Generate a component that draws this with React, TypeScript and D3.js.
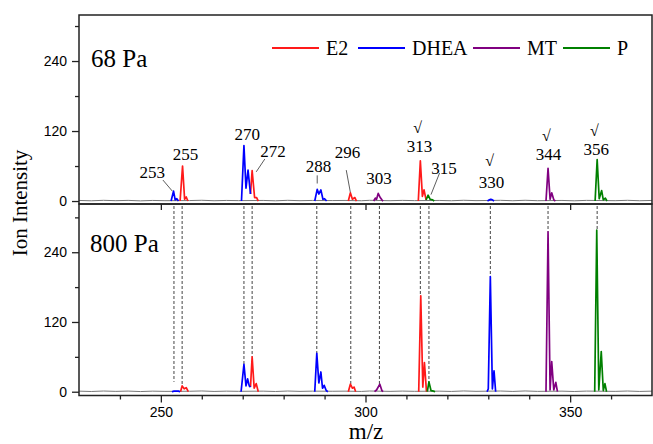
import React, { Component } from "react";
import * as d3 from "d3";

type Pt = [number, number];

const compounds = ["E2", "DHEA", "MT", "P"];
const colors = ["#ff1a1a", "#0000ff", "#800080", "#008000"];

// ---- 68 Pa spectrum (top panel), [m/z, intensity] ----
const e2Low: Pt[] = [
	[254.7, 0], [255.3, 60], [255.8, 3], [256.2, 7], [256.6, 0],
	[271.9, 12], [272.3, 52], [272.9, 6], [273.4, 6], [273.8, 0],
	[295.8, 0], [296.3, 14], [296.8, 3], [297.4, 6], [297.8, 0],
	[312.9, 0], [313.4, 69], [313.9, 8], [314.3, 19], [314.8, 2]
];
const dheaLow: Pt[] = [
	[252.5, 0], [253.1, 17], [253.5, 2], [253.9, 4], [254.3, 0],
	[269.7, 0], [270.3, 95], [270.8, 22], [271.3, 53], [271.9, 12],
	[287.6, 0], [288.2, 20], [288.6, 12], [289.1, 19], [289.6, 3], [290.0, 4], [290.5, 0],
	[329.8, 0], [330.3, 2], [330.6, 3], [331.0, 2], [331.4, 0]
];
const mtLow: Pt[] = [
	[302.0, 0], [302.4, 5], [302.7, 3], [303.1, 13], [303.6, 6], [304.0, 2], [304.3, 0],
	[344.1, 0], [344.6, 56], [345.1, 3], [345.5, 14], [346.0, 2], [346.4, 0]
];
const pLow: Pt[] = [
	[314.8, 2], [315.3, 10], [315.8, 3], [316.4, 2], [316.8, 0],
	[356.1, 0], [356.6, 71], [357.1, 4], [357.7, 18], [358.1, 2], [358.6, 5], [359.0, 0]
];

// ---- 800 Pa spectrum (bottom panel) ----
const e2High: Pt[] = [
	[254.8, 0], [255.2, 10], [255.7, 5], [256.2, 7], [256.7, 0],
	[271.9, 8], [272.3, 60], [272.8, 6], [273.3, 14], [273.8, 0],
	[295.8, 0], [296.3, 13], [296.8, 6], [297.2, 8], [297.6, 0],
	[313.0, 0], [313.5, 165], [314.0, 8], [314.4, 50], [314.9, 0]
];
const dheaHigh: Pt[] = [
	[252.7, 0], [253.2, 1], [254.3, 1], [254.7, 0],
	[269.6, 0], [270.3, 47], [270.8, 10], [271.2, 22], [271.6, 10], [271.9, 8],
	[287.6, 0], [288.1, 66], [288.6, 15], [289.1, 34], [289.5, 6], [289.9, 11], [290.4, 2], [290.8, 0],
	[329.7, 0], [330.0, 5], [330.5, 198], [331.0, 5], [331.4, 36], [331.8, 0]
];
const mtHigh: Pt[] = [
	[302.2, 0], [302.7, 3], [303.5, 13], [304.0, 2], [304.3, 0],
	[344.1, 0], [344.6, 275], [345.1, 3], [345.5, 52], [346.0, 3], [346.5, 16], [346.9, 0]
];
const pHigh: Pt[] = [
	[315.1, 0], [315.5, 17], [316.0, 2], [316.6, 1], [317.0, 0],
	[356.0, 0], [356.5, 278], [357.0, 3], [357.6, 69], [358.1, 2], [358.5, 14], [358.9, 0]
];

// grey background trace (noise floor)
const noise: Pt[] = [
	[230, 1], [233, 0.4], [236, 1.2], [239, 0.6], [242, 1.1], [245, 0.3], [248, 1], [251, 0.6],
	[257, 0.8], [260, 1.3], [263, 0.5], [266, 1], [269, 0.7], [275, 1], [278, 0.4], [281, 1.2],
	[284, 0.6], [287, 1], [292, 0.8], [295, 1], [299, 0.5], [301, 1.2], [306, 0.6], [309, 1.1],
	[312, 0.7], [318, 1], [321, 0.5], [324, 1.3], [327, 0.7], [333, 1.2], [336, 0.5], [339, 1.3],
	[342, 0.6], [348, 1], [351, 0.4], [354, 1.1], [361, 0.6], [364, 1.2], [367, 0.5], [370, 1]
];

// dashed guide lines: m/z and where they stop in the 800 Pa panel
const guideMz = [253.2, 255.2, 270.3, 272.3, 288.1, 296.4, 303.4, 313.4, 315.5, 330.5, 344.6, 356.6];
const guideEnd = [17, 10, 47, 60, 66, 13, 13, 165, 17, 198, 275, 278];

// peak annotations in the 68 Pa panel
const peakLabels = ["253", "255", "270", "272", "288", "296", "303", "313", "315", "330", "344", "356"];
const checked = ["313", "330", "344", "356"];

const xTicks = [250, 300, 350];
const xMinor = [240, 260, 270, 280, 290, 310, 320, 330, 340, 360];
const yTicks = [0, 120, 240];
const yMinor = [60, 180, 300];

// label placement in data units [m/z, intensity], plus optional leader line
const labelPos: Pt[] = [
	[247.9, 39], [256.0, 70], [271.1, 105], [277.4, 75], [288.5, 50], [295.6, 74],
	[303.3, 30], [313.2, 84], [319.2, 46], [330.8, 22], [344.7, 70], [356.4, 79]
];
const leaders: { [k: string]: [Pt, Pt] } = {
	"253": [[250.5, 36], [252.8, 17]],
	"272": [[275.4, 72], [273.3, 50]],
	"288": [[288.2, 44], [288.2, 30]],
	"296": [[295.3, 53], [296.3, 15]],
	"315": [[318.1, 48], [316.0, 11]]
};

const SERIF = "'Liberation Serif', 'Times New Roman', serif";
const SANS = "'Liberation Sans', Arial, sans-serif";

class App extends Component {
	ref = React.createRef<HTMLDivElement>();

	componentDidMount() {
		const node = this.ref.current;
		if (!node) return;
		d3.select(node).selectAll("*").remove();

		const svg = d3
			.select(node)
			.append("svg")
			.attr("width", 653)
			.attr("height", 444)
			.style("position", "absolute")
			.style("left", "0px")
			.style("top", "0px")
			.style("background", "#fff");

		const left = 79, right = 652, top = 15, mid = 204, bottom = 395.5;

		const x = d3.scaleLinear().domain([230, 370]).range([left, right]);
		const yTop = d3.scaleLinear().domain([-5.1, 318.9]).range([mid, top]);
		const yBot = d3.scaleLinear().domain([-6.5, 323]).range([bottom, mid]);

		const clip = svg.append("defs");
		clip.append("clipPath").attr("id", "clipTop").append("rect")
			.attr("x", left).attr("y", top).attr("width", right - left).attr("height", mid - top);
		clip.append("clipPath").attr("id", "clipBot").append("rect")
			.attr("x", left).attr("y", mid).attr("width", right - left).attr("height", bottom - mid);

		// dashed guides run from the top panel floor to the 800 Pa peaks
		svg.append("g")
			.selectAll("line")
			.data(guideMz)
			.enter()
			.append("line")
			.attr("x1", (d) => x(d))
			.attr("x2", (d) => x(d))
			.attr("y1", mid + 2)
			.attr("y2", (d, i) => yBot(guideEnd[i]))
			.attr("stroke", "#444")
			.attr("stroke-width", 1)
			.attr("stroke-dasharray", "3,2");

		const panels = [
			{ y: yTop, clip: "clipTop", series: [e2Low, dheaLow, mtLow, pLow] },
			{ y: yBot, clip: "clipBot", series: [e2High, dheaHigh, mtHigh, pHigh] }
		];

		panels.forEach((p) => {
			const line = d3.line<Pt>().x((d) => x(d[0])).y((d) => p.y(d[1]));
			const g = svg.append("g").attr("clip-path", `url(#${p.clip})`);
			g.append("path")
				.attr("d", line(noise) || "")
				.attr("fill", "none")
				.attr("stroke", "#777")
				.attr("stroke-width", 1);
			p.series.forEach((s, i) => {
				// split each compound into its separate clusters so the gaps stay on the grey trace
				const parts: Pt[][] = [];
				s.forEach((pt, k) => {
					if (k === 0 || pt[0] - s[k - 1][0] > 3) parts.push([]);
					parts[parts.length - 1].push(pt);
				});
				parts.forEach((part) => {
					g.append("path")
						.attr("d", line(part) || "")
						.attr("fill", "none")
						.attr("stroke", colors[i])
						.attr("stroke-width", 1.7)
						.attr("stroke-linejoin", "round");
				});
			});

			// y axis
			const yAxis = svg.append("g")
				.attr("transform", `translate(${left},0)`)
				.call(d3.axisLeft(p.y).tickValues(yTicks).tickSize(7).tickPadding(5));
			yAxis.select(".domain").remove();
			yAxis.selectAll("text").attr("font-family", SANS).attr("font-size", 14).attr("fill", "#000");
			yAxis.selectAll("line").attr("stroke", "#222").attr("stroke-width", 1.3);
			const yAxisMinor = svg.append("g")
				.attr("transform", `translate(${left},0)`)
				.call(d3.axisLeft(p.y).tickValues(yMinor).tickSize(4).tickFormat(() => ""));
			yAxisMinor.select(".domain").remove();
			yAxisMinor.selectAll("line").attr("stroke", "#222").attr("stroke-width", 1.3);
		});

		// ticks under the top panel
		const midAxis = svg.append("g")
			.attr("transform", `translate(0,${mid})`)
			.call(d3.axisBottom(x).tickValues(xTicks).tickSize(6).tickFormat(() => ""));
		midAxis.select(".domain").remove();
		midAxis.selectAll("line").attr("stroke", "#222").attr("stroke-width", 1.3);

		// bottom x axis
		const xAxis = svg.append("g")
			.attr("transform", `translate(0,${bottom})`)
			.call(d3.axisBottom(x).tickValues(xTicks).tickSize(7).tickPadding(5));
		xAxis.select(".domain").remove();
		xAxis.selectAll("text").attr("font-family", SANS).attr("font-size", 14).attr("fill", "#000");
		xAxis.selectAll("line").attr("stroke", "#222").attr("stroke-width", 1.3);
		const xAxisMinor = svg.append("g")
			.attr("transform", `translate(0,${bottom})`)
			.call(d3.axisBottom(x).tickValues(xMinor).tickSize(4).tickFormat(() => ""));
		xAxisMinor.select(".domain").remove();
		xAxisMinor.selectAll("line").attr("stroke", "#222").attr("stroke-width", 1.3);

		// frames
		svg.append("rect")
			.attr("x", left).attr("y", top).attr("width", right - left).attr("height", mid - top)
			.attr("fill", "none").attr("stroke", "#222").attr("stroke-width", 1.5);
		svg.append("rect")
			.attr("x", left).attr("y", mid).attr("width", right - left).attr("height", bottom - mid)
			.attr("fill", "none").attr("stroke", "#222").attr("stroke-width", 1.5);

		// peak labels
		const lab = svg.append("g").attr("font-family", SERIF).attr("font-size", 17).attr("text-anchor", "middle");
		peakLabels.forEach((t, i) => {
			const [mz, h] = labelPos[i];
			lab.append("text").attr("x", x(mz)).attr("y", yTop(h)).text(t);
			if (checked.indexOf(t) >= 0) {
				lab.append("text")
					.attr("x", x(mz) - 2)
					.attr("y", yTop(h) - (t === "330" ? 22 : 19))
					.attr("font-size", 16)
					.text("\u221A");
			}
			const ld = leaders[t];
			if (ld) {
				lab.append("line")
					.attr("x1", x(ld[0][0])).attr("y1", yTop(ld[0][1]))
					.attr("x2", x(ld[1][0])).attr("y2", yTop(ld[1][1]))
					.attr("stroke", "#333").attr("stroke-width", 0.8);
			}
		});

		// panel titles
		svg.append("text").attr("x", 91).attr("y", 67)
			.attr("font-family", SERIF).attr("font-size", 25).text("68 Pa");
		svg.append("text").attr("x", 90).attr("y", 252)
			.attr("font-family", SERIF).attr("font-size", 25).text("800 Pa");

		// legend
		const legendX = [272, 358, 473, 563];
		const leg = svg.append("g").attr("font-family", SERIF).attr("font-size", 20);
		compounds.forEach((c, i) => {
			leg.append("line")
				.attr("x1", legendX[i]).attr("x2", legendX[i] + 47)
				.attr("y1", 48).attr("y2", 48)
				.attr("stroke", colors[i]).attr("stroke-width", 1.8);
			leg.append("text").attr("x", legendX[i] + 54).attr("y", 55).text(c);
		});

		// axis titles
		svg.append("text")
			.attr("transform", "translate(27,203) rotate(-90)")
			.attr("text-anchor", "middle")
			.attr("font-family", SERIF)
			.attr("font-size", 21)
			.text("Ion Intensity");
		svg.append("text")
			.attr("x", 366)
			.attr("y", 439)
			.attr("text-anchor", "middle")
			.attr("font-family", SERIF)
			.attr("font-size", 23)
			.text("m/z");
	}

	render() {
		return <div ref={this.ref}></div>;
	}
}

export default App;
